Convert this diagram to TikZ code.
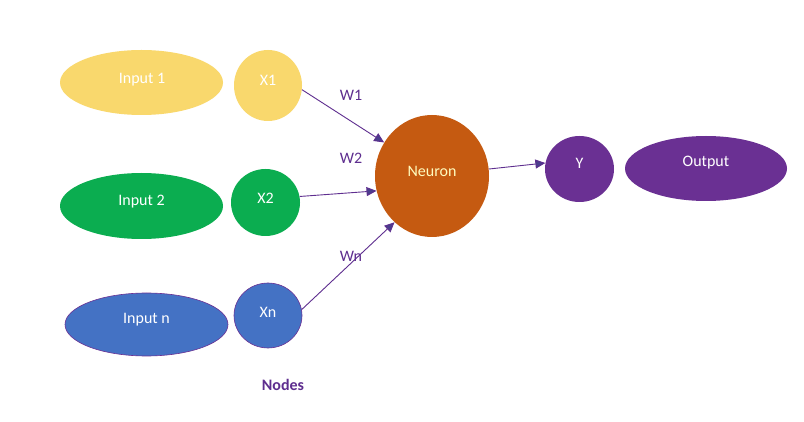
\documentclass[tikz,border=0pt]{standalone}
\usepackage{fontspec}
\setmainfont{Carlito}
\usetikzlibrary{shapes.geometric,arrows.meta}
\definecolor{cyel}{HTML}{F9D86D}
\definecolor{cgrn}{HTML}{0BAD50}
\definecolor{cblu}{HTML}{4472C4}
\definecolor{cora}{HTML}{C55A11}
\definecolor{cpur}{HTML}{6A3093}
\definecolor{cline}{HTML}{5E2E8F}
\begin{document}
\begin{tikzpicture}[x=1pt,y=-1pt,
  blob/.style={ellipse,inner sep=0pt,font=\fontsize{16}{18}\selectfont,text=white},
  lbl/.style={font=\fontsize{16}{18}\selectfont,text=white},
  conn/.style={draw=cline,line width=0.9pt,-{Triangle[length=10pt,width=9pt,fill=cline!80!teal]}},
  wlab/.style={text=cline,font=\fontsize{16}{18}\selectfont}]
\useasboundingbox[fill=white] (0,0) rectangle (804,422);
\node[blob,fill=cyel,minimum width=163pt,minimum height=65pt] (I1) at (141.5,82.5) {};
\node[blob,fill=cyel,minimum width=68pt,minimum height=71pt] (X1) at (268,85.5) {};
\node[blob,fill=cgrn,minimum width=163pt,minimum height=66pt] (I2) at (141.5,206) {};
\node[blob,fill=cgrn,minimum width=69pt,minimum height=67pt] (X2) at (265.5,202.5) {};
\node[blob,fill=cblu,draw=cpur,line width=0.6pt,minimum width=163pt,minimum height=63pt] (In) at (146.5,324.5) {};
\node[blob,fill=cblu,draw=cpur,line width=0.6pt,minimum width=68pt,minimum height=65pt] (Xn) at (268,315.5) {};
\node[blob,fill=cora,minimum width=114pt,minimum height=122pt] (N) at (432,176) {};
\node[blob,fill=cpur,minimum width=69pt,minimum height=66pt] (Y) at (579.5,169) {};
\node[blob,fill=cpur,minimum width=162pt,minimum height=65pt] (O) at (706,168.5) {};
\node[lbl] (tI1) at (142,80) {Input 1};
\node[lbl] (tX1) at (268,80) {X1};
\node[lbl] (tI2) at (141.5,202) {Input 2};
\node[lbl] (tX2) at (265.5,198) {X2};
\node[lbl] (tIn) at (146.5,320) {Input n};
\node[lbl] (tXn) at (268,312) {Xn};
\node[lbl,text=yellow!25] (tN) at (432,171) {Neuron};
\node[lbl] (tY) at (579.5,163) {Y};
\node[lbl] (tO) at (706,163) {Output};
\draw[conn] (X1.-7.5) -- (N.145);
\draw[conn] (X2.10.7) -- (N.195);
\draw[conn] (Xn.10.5) -- (N.231);
\draw[conn] (N.7) -- (Y.170);
\node[wlab] (w1) at (351,95) {W1};
\node[wlab] (w2) at (351,158) {W2};
\node[wlab] (wn) at (351,256) {Wn};
\node[text=cline,font=\fontsize{16}{18}\selectfont\bfseries] (nodes) at (283,385) {Nodes};
\end{tikzpicture}
\end{document}
